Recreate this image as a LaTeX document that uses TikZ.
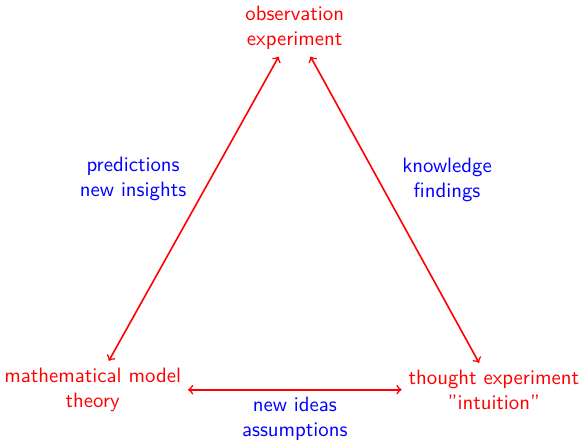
\documentclass[tikz,border=0pt]{standalone}
\usepackage{tikz}
\usetikzlibrary{shapes,arrows}
\tikzstyle{line} = [draw, <->, thick, red]
\tikzstyle{corner} = [red, align=center, font=\sffamily\fontsize{10.4}{12.5}\selectfont]
\tikzstyle{edgelabel} = [blue, align=center, font=\sffamily\fontsize{10.4}{12.5}\selectfont]

\begin{document}
\begin{tikzpicture}

	\useasboundingbox (0,0) rectangle (10.23,7.75);

	% nodes
	\node[corner] (O) at (5.18, 7.26) {observation\\experiment};
	\node[corner] (M) at (1.63, 0.90) {mathematical model\\theory};
	\node[corner] (T) at (8.68, 0.90) {thought experiment\\''intuition''};

	% arrows
	\draw [line] (O) -- node[edgelabel, above left] {predictions\\new insights} (M);
	\draw [line] (O) -- node[edgelabel, above right] {knowledge\\findings} (T);
	\draw [line] (M) -- node[edgelabel, below] {new ideas\\assumptions} (T);

\end{tikzpicture}
\end{document}
